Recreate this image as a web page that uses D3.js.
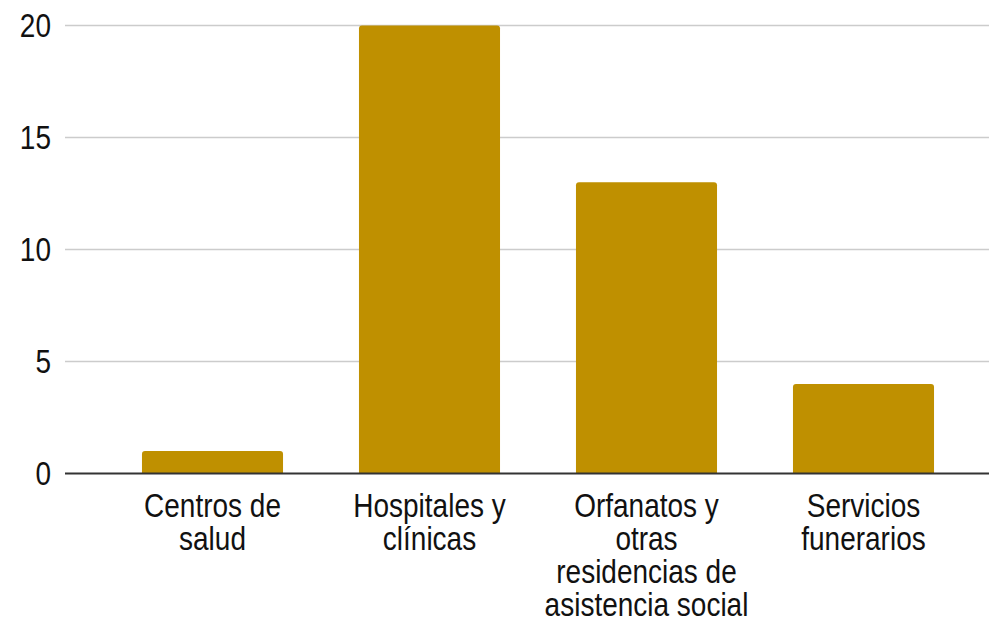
<!DOCTYPE html>
<html>
<head>
<meta charset="utf-8">
<script src="https://cdn.jsdelivr.net/npm/d3@7"></script>
<style>
  body { margin: 0; background: #fff; }
  svg { display: block; font-family: "Liberation Sans", Arial, sans-serif; }
</style>
</head>
<body>
<svg id="chart"></svg>
<script>
// data
const categories = ["Centros de salud", "Hospitales y clínicas", "Orfanatos y otras residencias de asistencia social", "Servicios funerarios"];
const values = [1, 20, 13, 4];
const yTicks = [0, 5, 10, 15, 20];

const width = 989, height = 621;
const stretch = 1.18; // text in the reference is drawn a bit taller than wide
const svg = d3.select('#chart').attr('width', width).attr('height', height);

const x = d3.scaleBand()
    .domain(categories)
    .range([104, 972])
    .paddingInner(0.35)
    .paddingOuter(0.175);

const y = d3.scaleLinear()
    .domain([0, 20])
    .range([473.5, 25.5]);

// gridlines
svg.append('g')
  .selectAll('line')
  .data(yTicks.filter(d => d !== 0))
  .join('line')
    .attr('x1', 65).attr('x2', width)
    .attr('y1', d => y(d)).attr('y2', d => y(d))
    .attr('stroke', '#cccccc')
    .attr('stroke-width', 1.5);

// y tick labels
svg.append('g')
  .selectAll('text')
  .data(yTicks)
  .join('text')
    .attr('transform', d => `translate(51,${y(d) + 11.8}) scale(1,${stretch})`)
    .attr('text-anchor', 'end')
    .attr('font-size', 28)
    .attr('fill', '#111')
    .text(d => d);

// bars
svg.append('g')
  .selectAll('path')
  .data(categories.map((c, i) => ({c, v: values[i]})))
  .join('path')
    .attr('fill', '#bf9000')
    .attr('d', d => {
      const x0 = x(d.c), w = x.bandwidth(), y0 = y(d.v), y1 = y(0), r = 3;
      return `M${x0},${y1}V${y0 + r}Q${x0},${y0} ${x0 + r},${y0}H${x0 + w - r}Q${x0 + w},${y0} ${x0 + w},${y0 + r}V${y1}Z`;
    });

// baseline
svg.append('line')
    .attr('x1', 65).attr('x2', width)
    .attr('y1', y(0)).attr('y2', y(0))
    .attr('stroke', '#333')
    .attr('stroke-width', 2);

// category labels, wrapped to the band
const xAxis = svg.append('g')
    .attr('transform', `translate(0,${y(0)})`)
    .call(d3.axisBottom(x).tickSize(0).tickPadding(0));
xAxis.select('.domain').remove();
xAxis.selectAll('text')
    .attr('font-size', 28)
    .attr('font-family', '"Liberation Sans", Arial, sans-serif')
    .attr('fill', '#111')
    .attr('transform', `scale(1,${stretch})`)
    .attr('y', 43.5 / stretch)
    .attr('dy', 0)
    .call(wrap, 207);

function wrap(text, w) {
  text.each(function() {
    const t = d3.select(this);
    const words = t.text().split(/\s+/);
    const y0 = +t.attr('y');
    t.text(null);
    let line = [], n = 0;
    let tspan = t.append('tspan').attr('x', 0).attr('y', y0);
    words.forEach(word => {
      line.push(word);
      tspan.text(line.join(' '));
      if (tspan.node().getComputedTextLength() > w && line.length > 1) {
        line.pop();
        tspan.text(line.join(' '));
        line = [word];
        n++;
        tspan = t.append('tspan').attr('x', 0).attr('y', y0 + n * 33 / stretch).text(word);
      }
    });
  });
}
</script>
</body>
</html>
